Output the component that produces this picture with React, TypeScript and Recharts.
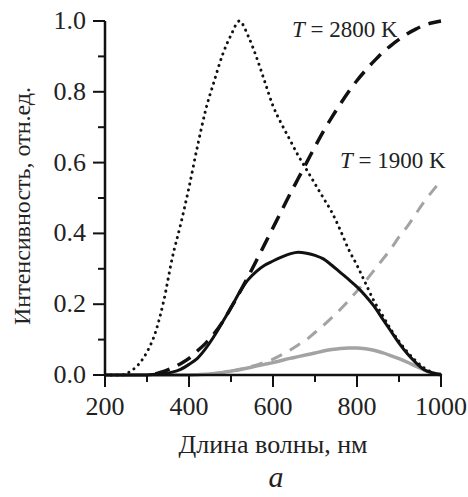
import React from "react";
import { LineChart, Line, XAxis, YAxis } from "recharts";

document.body.style.margin = "0";

const wavelengths = [
  200, 220, 240, 260, 280, 300, 320, 340, 360, 380, 400, 420, 440, 460, 480,
  500, 520, 540, 560, 580, 600, 620, 640, 660, 680, 700, 720, 740, 760, 780,
  800, 820, 840, 860, 880, 900, 920, 940, 960, 980, 1000,
];

// dotted: eye sensitivity
const eyeSens = [
  0, 0, 0, 0.01, 0.03, 0.065, 0.12, 0.21, 0.33, 0.425, 0.53, 0.645, 0.75, 0.83,
  0.905, 0.96, 1.0, 0.96, 0.9, 0.83, 0.76, 0.71, 0.665, 0.62, 0.58, 0.54, 0.5,
  0.46, 0.41, 0.355, 0.31, 0.26, 0.21, 0.17, 0.13, 0.095, 0.065, 0.04, 0.02,
  0.007, 0,
];

// black dashed: T = 2800 K
const planck2800 = [
  null, null, null, null, null, null, 0.003, 0.01, 0.02, 0.032, 0.047, 0.068,
  0.09, 0.117, 0.15, 0.19, 0.232, 0.276, 0.322, 0.369, 0.416, 0.463, 0.51,
  0.555, 0.6, 0.645, 0.688, 0.728, 0.765, 0.8, 0.832, 0.86, 0.886, 0.91, 0.93,
  0.948, 0.964, 0.977, 0.988, 0.995, 1.0,
];

// black solid
const seen2800 = [
  0, 0, 0, 0, 0, 0, 0.002, 0.004, 0.008, 0.016, 0.03, 0.047, 0.075, 0.11, 0.15,
  0.19, 0.233, 0.268, 0.292, 0.31, 0.322, 0.333, 0.342, 0.347, 0.344, 0.338,
  0.328, 0.31, 0.29, 0.27, 0.249, 0.224, 0.195, 0.16, 0.125, 0.09, 0.06, 0.035,
  0.015, 0.006, 0.002,
];

// gray dashed: T = 1900 K
const planck1900 = [
  null, null, null, null, null, null, null, null, null, null, 0, 0.001, 0.002,
  0.004, 0.007, 0.011, 0.016, 0.022, 0.028, 0.036, 0.045, 0.057, 0.07, 0.085,
  0.1, 0.12, 0.14, 0.162, 0.185, 0.21, 0.237, 0.265, 0.295, 0.325, 0.355, 0.39,
  0.42, 0.455, 0.49, 0.52, 0.55,
];

// gray solid
const seen1900 = [
  0, 0, 0, 0, 0, 0, 0, 0, 0, 0, 0, 0.001, 0.002, 0.004, 0.007, 0.011, 0.015,
  0.02, 0.025, 0.03, 0.035, 0.041, 0.047, 0.052, 0.057, 0.062, 0.068, 0.072,
  0.075, 0.076, 0.076, 0.074, 0.07, 0.063, 0.055, 0.046, 0.036, 0.025, 0.014,
  0.006, 0,
];

const xTicks = [200, 300, 400, 500, 600, 700, 800, 900, 1000];
const yTicks = [0, 0.1, 0.2, 0.3, 0.4, 0.5, 0.6, 0.7, 0.8, 0.9, 1.0];

const data = wavelengths.map((w, i) => ({
  w,
  eyeSens: eyeSens[i],
  planck2800: planck2800[i],
  seen2800: seen2800[i],
  planck1900: planck1900[i],
  seen1900: seen1900[i],
}));

const txt = { fontFamily: "Liberation Serif, DejaVu Serif, serif", fill: "#222" };

const XTick = ({ x, y, payload }: any) => {
  const major = payload.value % 200 === 0;
  return (
    <g>
      <line x1={x} y1={y} x2={x} y2={y + (major ? 12 : 7)} stroke="#111" strokeWidth={2} />
      {major && (
        <text x={x} y={y + 40} textAnchor="middle" fontSize={26} style={txt}>
          {payload.value}
        </text>
      )}
    </g>
  );
};

const YTick = ({ x, y, payload }: any) => {
  const major = Math.round(payload.value * 10) % 2 === 0;
  return (
    <g>
      <line x1={x - (major ? 12 : 7)} y1={y} x2={x} y2={y} stroke="#111" strokeWidth={2} />
      {major && (
        <text x={x - 19} y={y + 8} textAnchor="end" fontSize={26} style={txt}>
          {payload.value.toFixed(1)}
        </text>
      )}
    </g>
  );
};

export default function App() {
  return (
    <div style={{ width: 468, height: 497, background: "#fff" }}>
      <LineChart
        width={468}
        height={497}
        data={data}
        margin={{ top: 21, right: 27, left: 0, bottom: 0 }}
      >
        <XAxis
          dataKey="w"
          type="number"
          domain={[200, 1000]}
          ticks={xTicks}
          tick={<XTick />}
          tickLine={false}
          tickSize={0}
          tickMargin={0}
          height={122}
          axisLine={{ stroke: "#111", strokeWidth: 2.5 }}
          interval={0}
        />
        <YAxis
          type="number"
          domain={[0, 1]}
          ticks={yTicks}
          tick={<YTick />}
          tickLine={false}
          tickSize={0}
          tickMargin={0}
          width={105}
          axisLine={{ stroke: "#111", strokeWidth: 2.5 }}
          interval={0}
        />
        <Line
          dataKey="seen1900"
          type="monotone"
          stroke="#a3a3a3"
          strokeWidth={3.5}
          dot={false}
          isAnimationActive={false}
        />
        <Line
          dataKey="planck1900"
          type="monotone"
          stroke="#a3a3a3"
          strokeWidth={3}
          strokeDasharray="12 9"
          dot={false}
          isAnimationActive={false}
        />
        <Line
          dataKey="eyeSens"
          type="monotone"
          stroke="#111"
          strokeWidth={3}
          strokeDasharray="0.1 6"
          strokeLinecap="round"
          dot={false}
          isAnimationActive={false}
        />
        <Line
          dataKey="seen2800"
          type="monotone"
          stroke="#111"
          strokeWidth={3}
          dot={false}
          isAnimationActive={false}
        />
        <Line
          dataKey="planck2800"
          type="monotone"
          stroke="#111"
          strokeWidth={3.5}
          strokeDasharray="15 9"
          dot={false}
          isAnimationActive={false}
        />
        <text
          x={22}
          y={206}
          transform="rotate(-90 22 206)"
          textAnchor="middle"
          dominantBaseline="central"
          fontSize={24}
          style={txt}
        >
          Интенсивность, отн.ед.
        </text>
        <text x={273} y={453} textAnchor="middle" fontSize={26} style={txt}>
          Длина волны, нм
        </text>
        <text x={276} y={487} textAnchor="middle" fontSize={30} fontStyle="italic" style={txt}>
          a
        </text>
        <text x={292} y={37} fontSize={23} style={txt}>
          <tspan fontStyle="italic">T</tspan>
          <tspan> = 2800 K</tspan>
        </text>
        <text x={340} y={168} fontSize={23} style={txt}>
          <tspan fontStyle="italic">T</tspan>
          <tspan> = 1900 K</tspan>
        </text>
      </LineChart>
    </div>
  );
}
